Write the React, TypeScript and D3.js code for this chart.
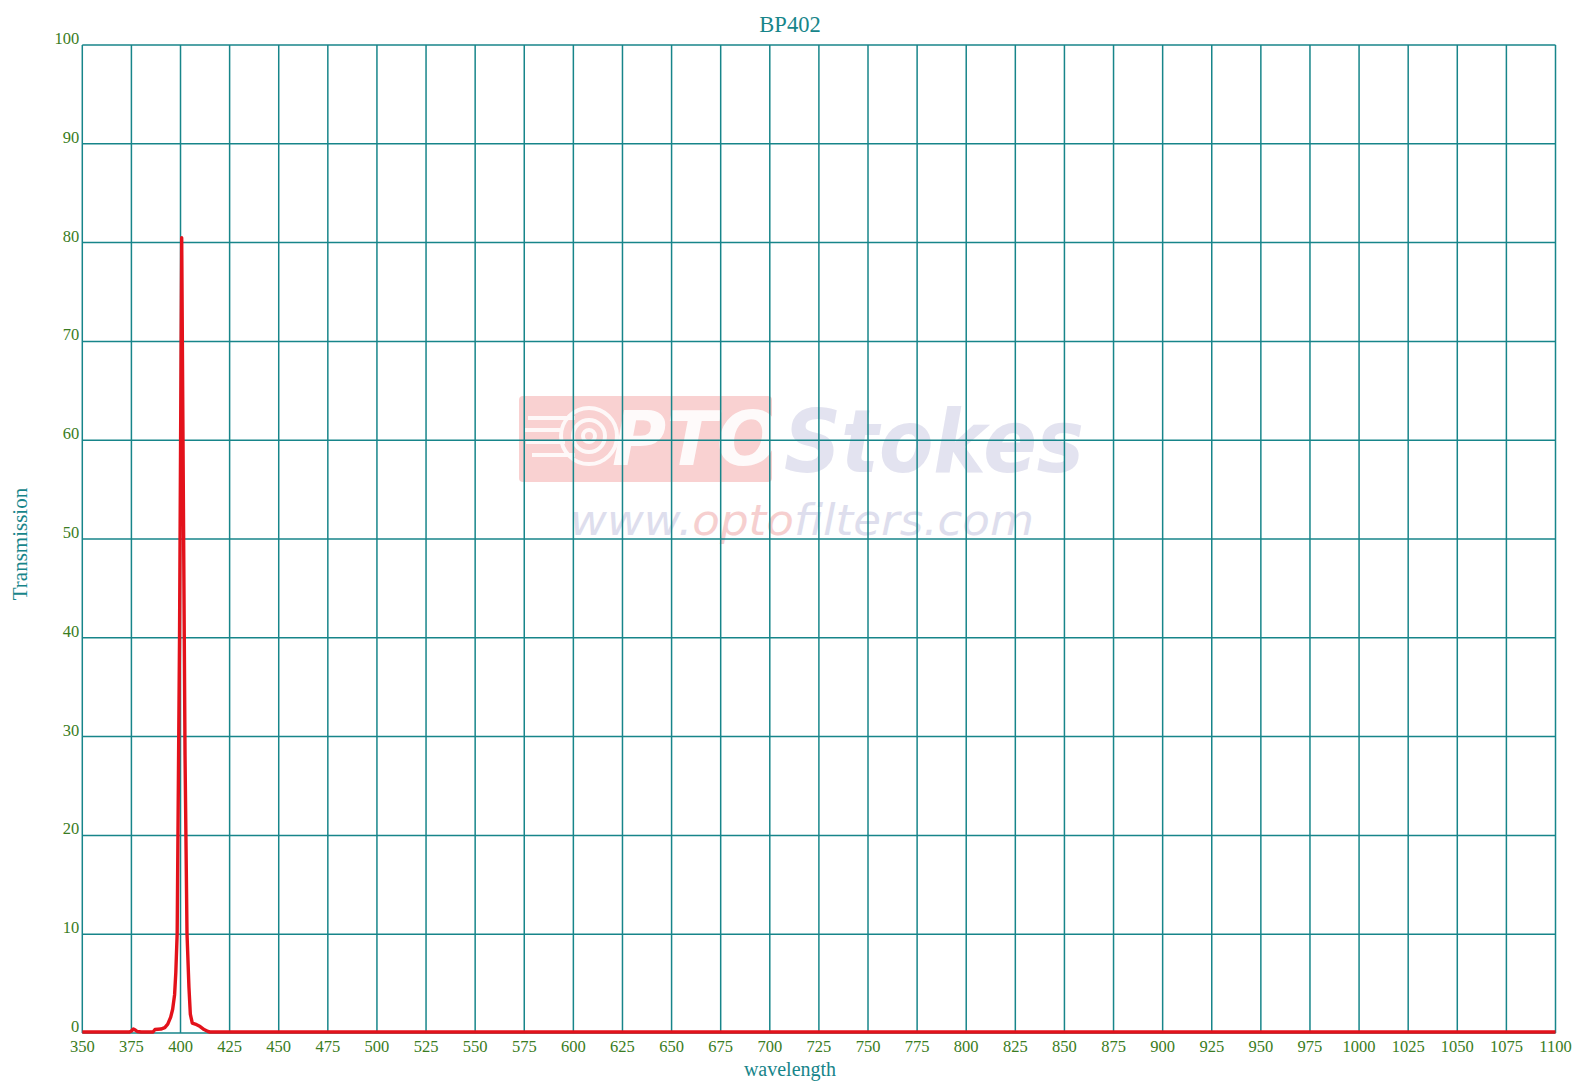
import React from "react";
import * as d3 from "d3";

const wavelengths = [350, 374, 375, 376, 377, 378, 380, 386, 387, 390, 392, 393.5, 395, 396, 397, 397.6, 398.3, 399.5, 400.6, 401.2, 402.3, 403.3, 404.3, 405, 406, 407.5, 410, 412, 414, 415, 1100];
const transmission = [0, 0, 0.1, 0.3, 0.2, 0.05, 0, 0, 0.25, 0.3, 0.45, 0.8, 1.5, 2.3, 3.8, 6, 10, 40, 80.4, 62, 28, 10, 4.5, 1.8, 0.9, 0.8, 0.55, 0.25, 0.05, 0, 0];
const xTicks = d3.range(350, 1101, 25);
const yTicks = d3.range(0, 101, 10);
const titleText = "BP402";
const xLabel = "wavelength";
const yLabel = "Transmission";

const W = 1573, H = 1090;
const left = 82.3, right = 1555.5, top = 45, bottom = 1033;
const teal = "#17858a";
const tickGreen = "#3a7c22";
const serif = "'Liberation Serif', 'Times New Roman', serif";

export default function App() {
  const x = d3.scaleLinear().domain([350, 1100]).range([left, right]);
  const y = d3.scaleLinear().domain([0, 100]).range([bottom, top]);
  const pts = wavelengths.map((w, i) => [w, transmission[i]] as [number, number]);
  const line = d3.line<[number, number]>().x(d => x(d[0])).y(d => y(d[1]) - 1);

  return (
    <svg width={W} height={H} style={{ position: "absolute", left: 0, top: 0, background: "#fff" }}>
      {/* watermark */}
      <g>
        <rect x={519} y={396} width={253} height={86} rx={4} fill="#f29a9a" opacity={0.45} />
        <g opacity={0.85} fill="none" stroke="#fff" strokeWidth={4}>
          <circle cx={589} cy={436} r={28} />
          <circle cx={589} cy={436} r={16} />
          <circle cx={589} cy={436} r={6} />
          <line x1={528} y1={418} x2={575} y2={418} />
          <line x1={524} y1={430} x2={560} y2={430} />
          <line x1={526} y1={442} x2={565} y2={442} />
          <line x1={532} y1={455} x2={575} y2={455} />
        </g>
        <text x={612} y={465} fontFamily="'DejaVu Sans', sans-serif" fontWeight="bold" fontStyle="italic" fontSize={74} fill="#fff" opacity={0.9}>PTO</text>
        <text x={784} y={472} fontFamily="'DejaVu Sans', sans-serif" fontWeight="bold" fontStyle="italic" fontSize={88} fill="#c8c8e2" opacity={0.5} textLength={300} lengthAdjust="spacingAndGlyphs">Stokes</text>
        <text x={570} y={535} fontFamily="'DejaVu Sans', sans-serif" fontStyle="italic" fontSize={42} textLength={464} lengthAdjust="spacingAndGlyphs" opacity={0.75}>
          <tspan fill="#d3d3e8">www.</tspan>
          <tspan fill="#f4c0c0">opto</tspan>
          <tspan fill="#d3d3e8">filters.com</tspan>
        </text>
      </g>
      {/* grid */}
      <g stroke={teal} strokeWidth={1.5}>
        {xTicks.map(t => (
          <line key={"gx" + t} x1={x(t)} x2={x(t)} y1={top} y2={bottom} />
        ))}
        {yTicks.map(t => (
          <line key={"gy" + t} x1={left} x2={right} y1={y(t)} y2={y(t)} />
        ))}
      </g>
      {/* y tick labels */}
      <g fontFamily={serif} fontSize={16.5} fill={tickGreen} textAnchor="end">
        {yTicks.map(t => (
          <text key={"ty" + t} x={left - 3} y={y(t) - 1}>{t}</text>
        ))}
      </g>
      {/* x tick labels */}
      <g fontFamily={serif} fontSize={16.5} fill={tickGreen} textAnchor="middle">
        {xTicks.map(t => (
          <text key={"tx" + t} x={x(t)} y={bottom + 19}>{t}</text>
        ))}
      </g>
      {/* curve */}
      <path d={line(pts) || ""} fill="none" stroke="#e3121b" strokeWidth={3.4} strokeLinejoin="round" />
      {/* titles */}
      <text x={790} y={32} textAnchor="middle" fontFamily={serif} fontSize={22.5} fill={teal}>{titleText}</text>
      <text x={790} y={1076} textAnchor="middle" fontFamily={serif} fontSize={20} fill={teal}>{xLabel}</text>
      <text transform={`translate(27,${544}) rotate(-90)`} textAnchor="middle" fontFamily={serif} fontSize={21} fill={teal}>{yLabel}</text>
    </svg>
  );
}
